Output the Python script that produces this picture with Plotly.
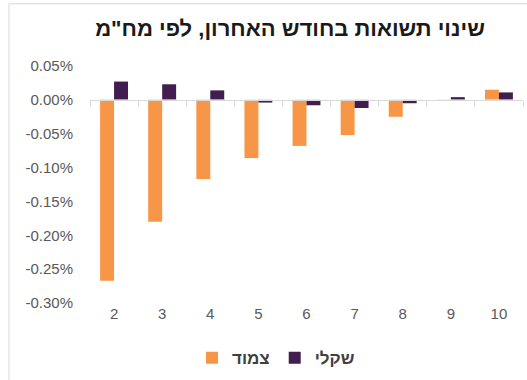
import plotly.graph_objects as go

# Modified duration buckets (years)
durations = ["2", "3", "4", "5", "6", "7", "8", "9", "10"]

# Change in yield over the last month, in percent
linked = [-0.267, -0.180, -0.117, -0.086, -0.068, -0.052, -0.025, 0.0, 0.015]
nominal = [0.027, 0.023, 0.014, -0.004, -0.008, -0.012, -0.005, 0.004, 0.011]

series_names = ["צמוד", "שקלי"]
title_text = 'שינוי תשואות בחודש האחרון, לפי מח"מ'

y_tickvals = [0.05, 0.0, -0.05, -0.10, -0.15, -0.20, -0.25, -0.30]
y_ticktext = ["0.05%", "0.00%", "-0.05%", "-0.10%", "-0.15%", "-0.20%", "-0.25%", "-0.30%"]

ORANGE = "#F79646"
PURPLE = "#411E4F"
TEXT = "#595959"

W, H = 527, 380
ML, MR, MT, MB = 90, 4, 66, 74
y_lo, y_hi = -0.30, 0.05

fig = go.Figure()
fig.add_trace(go.Bar(x=durations, y=linked, name=series_names[0],
                     marker=dict(color=ORANGE, line=dict(width=0))))
fig.add_trace(go.Bar(x=durations, y=nominal, name=series_names[1],
                     marker=dict(color=PURPLE, line=dict(width=0))))

zero_frac = (0 - y_lo) / (y_hi - y_lo)

fig.update_layout(
    width=W, height=H,
    margin=dict(l=ML, r=MR, t=MT, b=MB),
    paper_bgcolor="white", plot_bgcolor="white",
    barmode="group", bargap=0.42, bargroupgap=0,
    font=dict(family="Liberation Sans, Arial, sans-serif", size=15, color=TEXT),
    title=dict(text="<b>" + title_text + "</b>",
               x=290 / W, xanchor="center", y=1 - 28 / H, yanchor="middle",
               font=dict(size=22, color="#1A1A1A",
                         family="Liberation Sans, Arial, sans-serif")),
    showlegend=True,
    legend=dict(orientation="h", x=(192 - ML) / (W - ML - MR), xanchor="left",
                y=-(362 - (H - MB)) / (H - MT - MB), yanchor="middle",
                font=dict(size=17, color="#404040"),
                itemwidth=30, tracegroupgap=0, bgcolor="rgba(0,0,0,0)"),
    xaxis=dict(type="category", range=[-0.5, 8.5], showline=False,
               showgrid=False, zeroline=False, ticks="",
               tickfont=dict(size=15, color=TEXT)),
    xaxis2=dict(matches="x", overlaying="x", anchor="free", position=zero_frac,
                side="bottom", showline=True, linecolor="#D9D9D9", linewidth=1,
                ticks="outside", tickson="boundaries", ticklen=5,
                tickcolor="#D9D9D9", showticklabels=False, showgrid=False,
                zeroline=False),
    yaxis=dict(range=[y_lo, y_hi], tickvals=y_tickvals, ticktext=y_ticktext,
               showgrid=False, zeroline=False, showline=False, ticks="",
               ticklabelstandoff=16, tickfont=dict(size=15, color=TEXT)),
    shapes=[dict(type="rect", xref="paper", yref="paper",
                 x0=(9 - ML) / (W - ML - MR), x1=1.1,
                 y0=-0.5, y1=1 + (MT - 3) / (H - MT - MB),
                 line=dict(color="#D9D9D9", width=1), layer="below")],
)

# Legend labels drawn bold
for tr in fig.data:
    tr.name = "<b>" + tr.name + "</b>"

# Invisible carrier so the boundary axis knows the categories
fig.add_trace(go.Bar(x=durations, y=[0] * len(durations), xaxis="x2",
                     showlegend=False, hoverinfo="skip",
                     marker=dict(color="rgba(0,0,0,0)")))

fig.write_html("out.html")
